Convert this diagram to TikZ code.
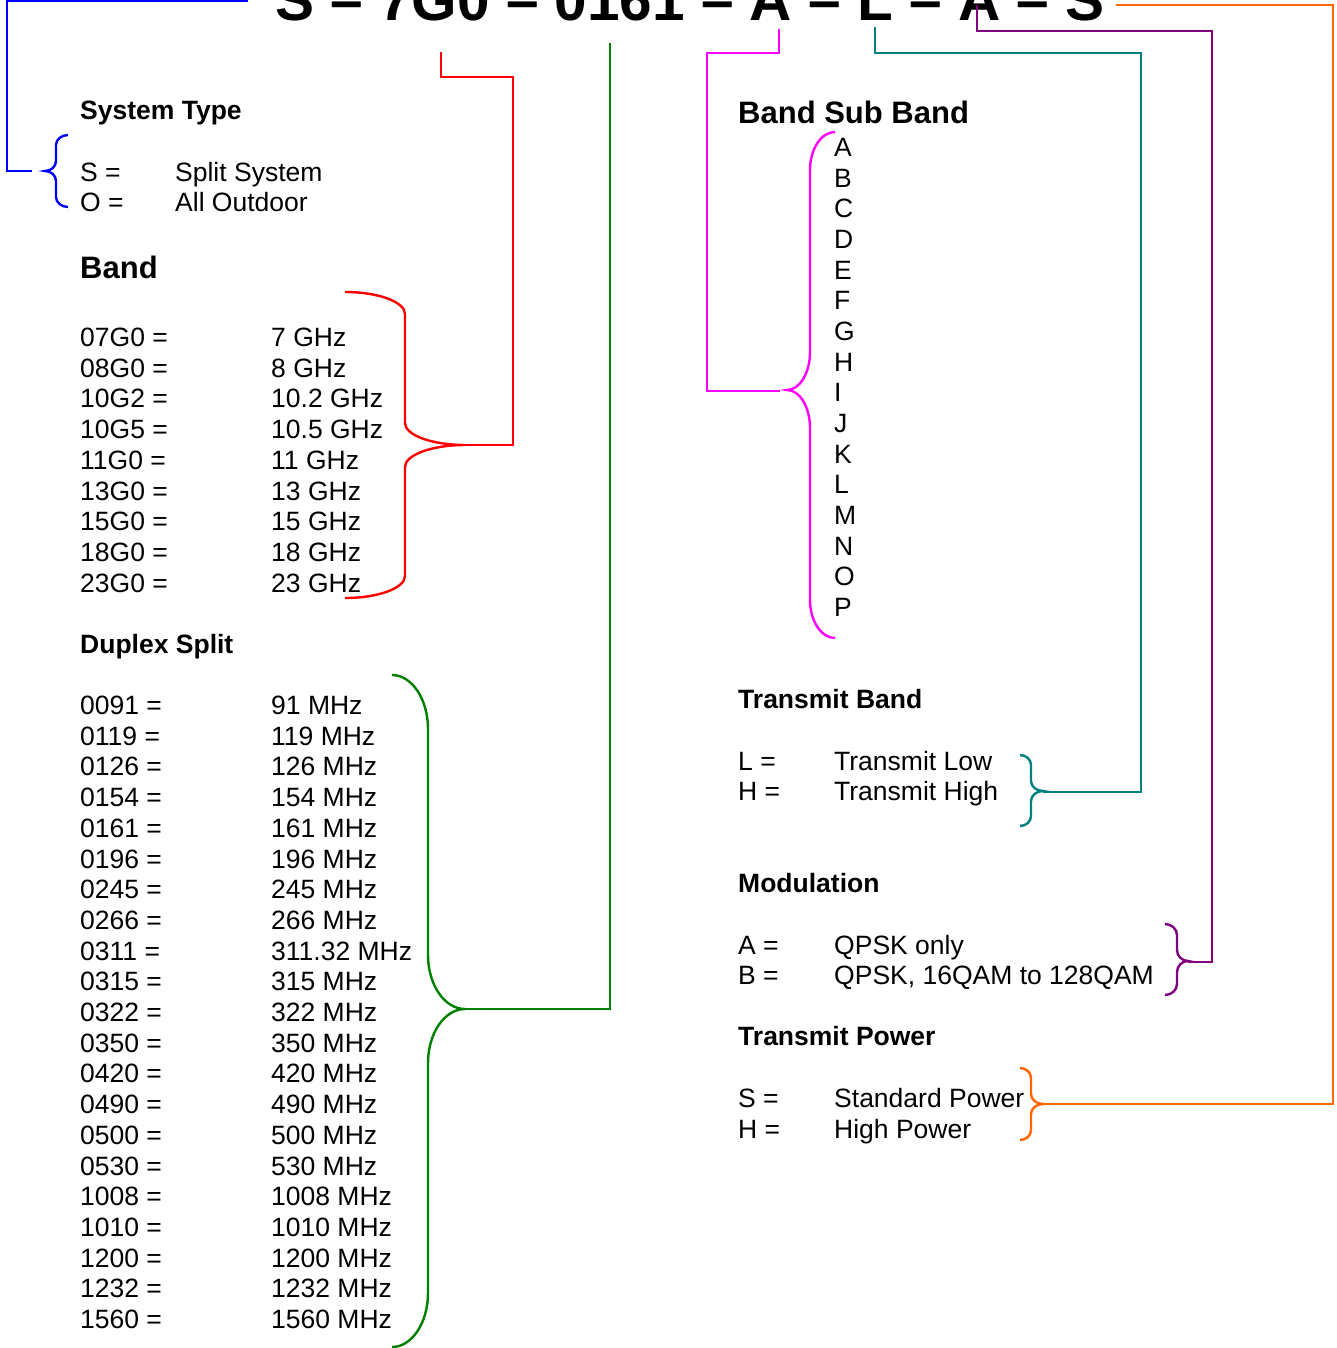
\documentclass[tikz,border=0pt]{standalone}
\usepackage{fontspec}
\setmainfont{Liberation Sans}
\definecolor{cblue}{RGB}{0,0,255}
\definecolor{cred}{RGB}{255,0,0}
\definecolor{cgreen}{RGB}{0,128,0}
\definecolor{cmag}{RGB}{255,0,255}
\definecolor{cteal}{RGB}{0,128,128}
\definecolor{cpurp}{RGB}{128,0,128}
\definecolor{corange}{RGB}{255,102,0}
\newcommand\mybrace[8]{%
\draw[conn,#1] (#2,#5) .. controls ({#2+0.552*(#3-#2)},#5) and (#3,{#5+0.448*#8}) .. (#3,{#5+#8})
 -- (#3,{#6-#8}) .. controls (#3,{#6-0.448*#8}) and ({#4-0.552*(#4-#3)},#6) .. (#4,#6)
 .. controls ({#4-0.552*(#4-#3)},#6) and (#3,{#6+0.448*#8}) .. (#3,{#6+#8})
 -- (#3,{#7-#8}) .. controls (#3,{#7-0.448*#8}) and ({#2+0.552*(#3-#2)},#7) .. (#2,#7);}
\tikzset{
  txt/.style={anchor=base west, inner sep=0pt, font=\fontsize{26.5}{30}\selectfont},
  hd/.style={anchor=base west, inner sep=0pt, font=\fontsize{26.5}{30}\selectfont\bfseries},
  hdl/.style={anchor=base west, inner sep=0pt, font=\fontsize{31}{36}\selectfont\bfseries},
  ttl/.style={anchor=base west, inner sep=0pt, font=\fontsize{58.5}{64}\selectfont\bfseries},
  conn/.style={line width=2.4pt, line join=miter}
}
\begin{document}
\begin{tikzpicture}[x=1pt,y=-1pt]
\useasboundingbox (0,0) rectangle (1337,1348);
\fill[white] (0,0) rectangle (1337,1348);
% title
\node[ttl] (title) at (275,21) {S – 7G0 – 0161 – A – L – A – S};
% left column
\node[hd] (systype) at (80,119.5) {System Type};
\node[txt] (sysS) at (80,181.5) {S =};
\node[txt] (sysSv) at (175,181.5) {Split System};
\node[txt] (sysO) at (80,211.5) {O =};
\node[txt] (sysOv) at (175,211.5) {All Outdoor};
\node[hdl] (band) at (80,278) {Band};
\foreach \c/\v [count=\i from 0] in {07G0/7 GHz,08G0/8 GHz,10G2/10.2 GHz,10G5/10.5 GHz,11G0/11 GHz,13G0/13 GHz,15G0/15 GHz,18G0/18 GHz,23G0/23 GHz}{
  \node[txt] (bl\i) at (80,{346.5+30.7*\i}) {\c\ =};
  \node[txt] (bv\i) at (271,{346.5+30.7*\i}) {\v};
}
\node[hd] (duplex) at (80,653.5) {Duplex Split};
\foreach \c/\v [count=\i from 0] in {0091/91,0119/119,0126/126,0154/154,0161/161,0196/196,0245/245,0266/266,0311/311.32,0315/315,0322/322,0350/350,0420/420,0490/490,0500/500,0530/530,1008/1008,1010/1010,1200/1200,1232/1232,1560/1560}{
  \node[txt] (dl\i) at (80,{714.5+30.7*\i}) {\c\ =};
  \node[txt] (dv\i) at (271,{714.5+30.7*\i}) {\v\ MHz};
}
% right column
\node[hdl] (subband) at (738,124) {Band Sub Band};
\foreach \l [count=\i from 0] in {A,B,C,D,E,F,G,H,I,J,K,L,M,N,O,P}{
  \node[txt] (sb\i) at (834,{156.5+30.67*\i}) {\l};
}
\node[hd] (txband) at (738,708.5) {Transmit Band};
\node[txt] (txL) at (738,770.5) {L =};
\node[txt] (txLv) at (834,770.5) {Transmit Low};
\node[txt] (txH) at (738,800.5) {H =};
\node[txt] (txHv) at (834,800.5) {Transmit High};
\node[hd] (modul) at (738,892.5) {Modulation};
\node[txt] (modA) at (738,954.5) {A =};
\node[txt] (modAv) at (834,954.5) {QPSK only};
\node[txt] (modB) at (738,984.5) {B =};
\node[txt] (modBv) at (834,984.5) {QPSK, 16QAM to 128QAM};
\node[hd] (txpow) at (738,1045.5) {Transmit Power};
\node[txt] (powS) at (738,1107.5) {S =};
\node[txt] (powSv) at (834,1107.5) {Standard Power};
\node[txt] (powH) at (738,1138.5) {H =};
\node[txt] (powHv) at (834,1138.5) {High Power};
% coordinates
\coordinate (bS) at (248,0.8);
\coordinate (bE) at (32,171);
\coordinate (rS) at (441,52);
\coordinate (rT) at (465,445);
\coordinate (gS) at (610,43);
\coordinate (gT) at (465,1009);
\coordinate (mS) at (779,29);
\coordinate (mE) at (780,391);
\coordinate (tS) at (875,27);
\coordinate (tT) at (1043,792);
\coordinate (pS) at (977,5);
\coordinate (pT) at (1188,962);
\coordinate (oS) at (1116,5);
\coordinate (oT) at (1043,1104);
% connectors
\draw[conn,cblue] (bS) -- (7,0.8) -- (7,171) -- (bE);
\mybrace{cblue}{68}{56}{45}{135}{171}{207}{10}
\draw[conn,cred] (rS) -- (441,77) -- (513,77) -- (513,445) -- (rT);
\mybrace{cred}{345}{405}{465}{292}{445}{598}{22}
\draw[conn,cgreen] (gS) -- (610,1009) -- (gT);
\mybrace{cgreen}{392}{428}{465}{675}{1009}{1347}{54}
\draw[conn,cmag] (mS) -- (779,53) -- (707,53) -- (707,391) -- (mE);
\mybrace{cmag}{835}{810}{787}{132}{390}{638}{38}
\draw[conn,cteal] (tS) -- (875,53) -- (1141,53) -- (1141,792) -- (tT);
\mybrace{cteal}{1020}{1031}{1043}{755}{791}{826}{10}
\draw[conn,cpurp] (pS) -- (977,31) -- (1212,31) -- (1212,962) -- (pT);
\mybrace{cpurp}{1165}{1177}{1188}{924}{961}{995}{11}
\draw[conn,corange] (oS) -- (1333,5) -- (1333,1104) -- (oT);
\mybrace{corange}{1020}{1031}{1043}{1068}{1104}{1140}{10}
\end{tikzpicture}
\end{document}
